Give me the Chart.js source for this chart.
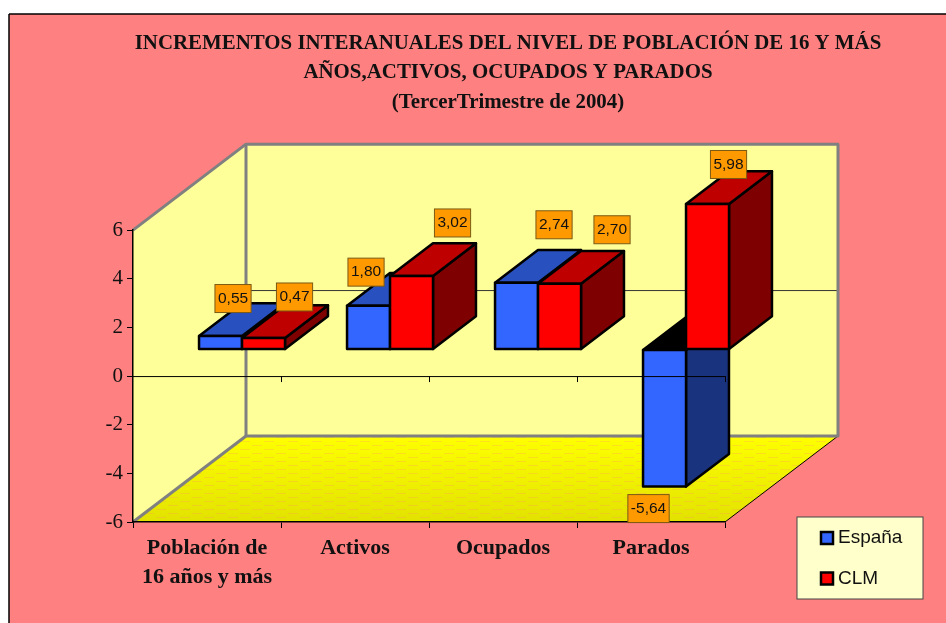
<!DOCTYPE html>
<html>
<head>
<meta charset="utf-8">
<title>Incrementos interanuales</title>
<script src="https://cdn.jsdelivr.net/npm/chart.js@4"></script>
<style>
    html, body { margin: 0; padding: 0; background: #fff; overflow: hidden; }
    canvas { display: block; }
</style>
</head>
<body>
<canvas id="chart" width="946" height="623"></canvas>
<script>
// Values
const categories = [['Población de', '16 años y más'], 'Activos', 'Ocupados', 'Parados'];
const espana = [0.55, 1.80, 2.74, -5.64];
const clm = [0.47, 3.02, 2.70, 5.98];
const titleLines = [
    'INCREMENTOS INTERANUALES DEL NIVEL DE POBLACIÓN DE 16 Y MÁS',
    'AÑOS,ACTIVOS, OCUPADOS Y PARADOS',
    '(TercerTrimestre de 2004)'
];

// Where the value boxes sit relative to the top of their bar
const espanaLabelNudge = [[12.5, -37.5], [-2.5, -33.5], [37.5, -58], [-16, 22]];
const clmLabelNudge = [[31, -41], [41, -53], [52.5, -54], [21, -39.5]];

// Fake 3D: the floor runs back by this much
const DEPTH_X = 113;
const DEPTH_Y = -86;
const BAR_START = 0.31;
const BAR_DEPTH = 0.38;

const SERIF = '"Liberation Serif", "Times New Roman", serif';
const SANS = '"Liberation Sans", Arial, sans-serif';

function poly(ctx, pts, fill, stroke, lineWidth) {
    ctx.beginPath();
    pts.forEach((p, i) => i ? ctx.lineTo(p[0], p[1]) : ctx.moveTo(p[0], p[1]));
    ctx.closePath();
    if (fill) {
        ctx.fillStyle = fill;
        ctx.fill();
    }
    if (stroke) {
        ctx.strokeStyle = stroke;
        ctx.lineWidth = lineWidth;
        ctx.lineJoin = 'round';
        ctx.stroke();
    }
}

function line(ctx, x1, y1, x2, y2, color, width) {
    ctx.beginPath();
    ctx.moveTo(x1, y1);
    ctx.lineTo(x2, y2);
    ctx.strokeStyle = color;
    ctx.lineWidth = width;
    ctx.stroke();
}

function floorDashes(ctx) {
    const tile = document.createElement('canvas');
    tile.width = 24;
    tile.height = 8;
    const t = tile.getContext('2d');
    t.fillStyle = 'rgba(255,128,128,0.22)';
    t.fillRect(0, 1, 10, 1);
    t.fillRect(12, 5, 10, 1);
    return ctx.createPattern(tile, 'repeat');
}

// Walls, floor and frame go under the axes
const wallsPlugin = {
    id: 'walls',
    beforeDraw(chart) {
        const ctx = chart.ctx;
        const { x, y } = chart.scales;
        const l = x.left, r = x.right, t = y.top, b = y.bottom;
        const zero = y.getPixelForValue(0);

        ctx.save();
        ctx.fillStyle = '#ffffff';
        ctx.fillRect(0, 0, chart.width, chart.height);
        ctx.fillStyle = '#ff8080';
        ctx.fillRect(9, 14, chart.width, chart.height);
        line(ctx, 9, 14, chart.width, 14, '#000', 1.5);
        line(ctx, 9, 14, 9, chart.height, '#000', 1.5);

        // side wall, back wall
        poly(ctx, [[l, t], [l + DEPTH_X, t + DEPTH_Y], [l + DEPTH_X, b + DEPTH_Y], [l, b]], '#ffff99');
        poly(ctx, [[l + DEPTH_X, t + DEPTH_Y], [r + DEPTH_X, t + DEPTH_Y], [r + DEPTH_X, b + DEPTH_Y], [l + DEPTH_X, b + DEPTH_Y]], '#ffff99');

        // floor
        const grad = ctx.createLinearGradient(0, b + DEPTH_Y, 0, b);
        grad.addColorStop(0, '#ffff00');
        grad.addColorStop(1, '#e2e200');
        const floor = [[l, b], [l + DEPTH_X, b + DEPTH_Y], [r + DEPTH_X, b + DEPTH_Y], [r, b]];
        poly(ctx, floor, grad);
        poly(ctx, floor, floorDashes(ctx));

        // zero line on the back wall
        line(ctx, l + DEPTH_X, zero + DEPTH_Y + 0.5, r + DEPTH_X, zero + DEPTH_Y + 0.5, '#333', 1);

        // wall edges
        line(ctx, l, t, l + DEPTH_X, t + DEPTH_Y, '#808080', 3);
        line(ctx, l, b, l + DEPTH_X, b + DEPTH_Y, '#808080', 3);
        line(ctx, r, b, r + DEPTH_X, b + DEPTH_Y, '#000', 1);
        poly(ctx, [[l + DEPTH_X, t + DEPTH_Y], [r + DEPTH_X, t + DEPTH_Y], [r + DEPTH_X, b + DEPTH_Y], [l + DEPTH_X, b + DEPTH_Y]], null, '#808080', 3);
        ctx.restore();
    },
    afterLayout(chart) {
        // title is centred over the whole plot including its depth
        chart.titleBlock.left = 70;
        chart.titleBlock.right = 946;
    }
};

// Bars are drawn left series first, each with its top and side faces behind it
const barsPlugin = {
    id: 'bars3d',
    beforeDatasetsDraw(chart) {
        const ctx = chart.ctx;
        const { x, y } = chart.scales;
        const zero = y.getPixelForValue(0);
        const shiftX = DEPTH_X * BAR_START;
        const shiftY = DEPTH_Y * BAR_START;
        const dx = DEPTH_X * BAR_DEPTH;
        const dy = DEPTH_Y * BAR_DEPTH;

        chart.data.datasets.forEach((ds, i) => {
            const meta = chart.getDatasetMeta(i);
            ctx.save();
            ctx.translate(shiftX, shiftY);
            meta.data.forEach((bar, j) => {
                const left = bar.x - bar.width / 2;
                const right = bar.x + bar.width / 2;
                const top = Math.min(bar.y, bar.base);
                const bottom = Math.max(bar.y, bar.base);
                const topFill = ds.data[j] < 0 ? '#000000' : ds.topColor;
                poly(ctx, [[right, top], [right + dx, top + dy], [right + dx, bottom + dy], [right, bottom]], ds.sideColor, '#000', 2.5);
                poly(ctx, [[left, top], [left + dx, top + dy], [right + dx, top + dy], [right, top]], topFill, '#000', 2.5);
            });
            meta.controller.draw();
            // outline sits centred on the edge of the front face
            meta.data.forEach(bar => {
                const left = bar.x - bar.width / 2;
                const right = bar.x + bar.width / 2;
                poly(ctx, [[left, bar.y], [right, bar.y], [right, bar.base], [left, bar.base]], null, '#000', 2.5);
            });
            ctx.restore();
        });

        // zero line with its ticks crosses the front of everything
        const step = (x.right - x.left) / categories.length;
        line(ctx, x.left, zero + 0.5, x.right, zero + 0.5, '#000', 1);
        categories.forEach((c, i) => {
            const tx = x.left + step * (i + 1);
            line(ctx, tx + 0.5, zero, tx + 0.5, zero + 6, '#000', 1);
        });

        // value boxes
        chart.data.datasets.forEach((ds, i) => {
            chart.getDatasetMeta(i).data.forEach((bar, j) => {
                const text = ds.data[j].toFixed(2).replace('.', ',');
                ctx.font = '15.5px ' + SANS;
                const w = ctx.measureText(text).width + 6;
                const h = 28;
                const cx = bar.x + shiftX + ds.labelNudge[j][0];
                const cy = bar.y + shiftY + ds.labelNudge[j][1];
                ctx.fillStyle = '#ff9900';
                ctx.fillRect(cx - w / 2, cy - h / 2, w, h);
                ctx.strokeStyle = '#7a5a14';
                ctx.lineWidth = 1;
                ctx.strokeRect(cx - w / 2, cy - h / 2, w, h);
                ctx.fillStyle = '#111';
                ctx.textAlign = 'center';
                ctx.textBaseline = 'middle';
                ctx.fillText(text, cx, cy);
            });
        });

        // legend box
        ctx.fillStyle = '#ffffcc';
        ctx.fillRect(797, 517, 126, 82);
        ctx.strokeStyle = '#444';
        ctx.lineWidth = 1;
        ctx.strokeRect(797, 517, 126, 82);
        chart.data.datasets.forEach((ds, i) => {
            const ly = 538 + i * 40.5;
            ctx.fillStyle = ds.backgroundColor;
            ctx.fillRect(821, ly - 6, 12, 12);
            ctx.strokeStyle = '#000';
            ctx.lineWidth = 2.5;
            ctx.strokeRect(821, ly - 6, 12, 12);
            ctx.fillStyle = '#111';
            ctx.font = '19px ' + SANS;
            ctx.textAlign = 'left';
            ctx.textBaseline = 'middle';
            ctx.fillText(ds.label, 838, ly);
        });
        return false;
    }
};

document.addEventListener('DOMContentLoaded', function() {
    new Chart(document.getElementById('chart').getContext('2d'), {
        type: 'bar',
        data: {
            labels: categories,
            datasets: [{
                label: 'España',
                data: espana,
                backgroundColor: '#3366ff',
                topColor: '#2850be',
                sideColor: '#1a337f',
                labelNudge: espanaLabelNudge
            }, {
                label: 'CLM',
                data: clm,
                backgroundColor: '#ff0000',
                topColor: '#bf0000',
                sideColor: '#7f0000',
                labelNudge: clmLabelNudge
            }]
        },
        plugins: [wallsPlugin, barsPlugin],
        options: {
            responsive: false,
            animation: false,
            categoryPercentage: 0.581,
            barPercentage: 1,
            borderWidth: 0,
            layout: { padding: { left: 40, right: 221, top: 0, bottom: 0 } },
            plugins: {
                legend: { display: false },
                tooltip: { enabled: false },
                title: {
                    display: true,
                    text: titleLines,
                    color: '#111',
                    font: { family: SERIF, size: 20.9, weight: 'bold', lineHeight: 1.39 },
                    padding: { top: 29.5, bottom: 113.5 }
                }
            },
            scales: {
                x: {
                    afterFit(scale) { scale.height = 101; },
                    border: { color: '#000', width: 1.5 },
                    grid: { drawOnChartArea: false, tickLength: 6, tickColor: '#000' },
                    ticks: {
                        color: '#111',
                        padding: 6,
                        autoSkip: false,
                        maxRotation: 0,
                        font: { family: SERIF, size: 22, weight: 'bold', lineHeight: 1.32 }
                    }
                },
                y: {
                    min: -6,
                    max: 6,
                    afterFit(scale) { scale.width = 93; },
                    border: { color: '#000', width: 1.5 },
                    grid: { drawOnChartArea: false, tickLength: 6, tickColor: '#000' },
                    ticks: {
                        color: '#111',
                        padding: 4,
                        stepSize: 2,
                        font: { family: SERIF, size: 21 }
                    }
                }
            }
        }
    });
});
</script>
</body>
</html>
